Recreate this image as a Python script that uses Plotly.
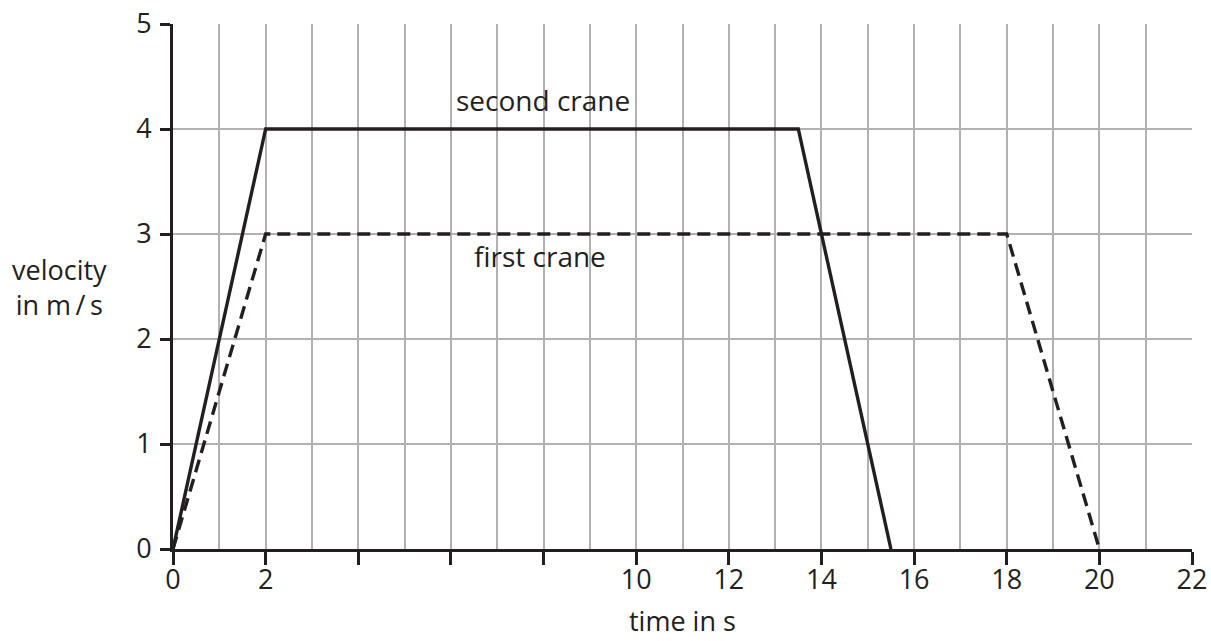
import plotly.graph_objects as go

# Data
first_t = [0, 2, 18, 20]
first_v = [0, 3, 3, 0]
second_t = [0, 2, 13.5, 15.5]
second_v = [0, 4, 4, 0]

x_tickvals = [0, 2, 4, 6, 8, 10, 12, 14, 16, 18, 20, 22]
x_ticktext = ["0", "2", "", "", "", "10", "12", "14", "16", "18", "20", "22"]
y_tickvals = [0, 1, 2, 3, 4, 5]

ink = "#231f20"
grid = "#b1b1b4"
font = "Open Sans"

fig = go.Figure()
fig.add_trace(go.Scatter(x=second_t, y=second_v, mode="lines",
                         line=dict(color=ink, width=3.4), showlegend=False))
fig.add_trace(go.Scatter(x=first_t, y=first_v, mode="lines",
                         line=dict(color=ink, width=3.4, dash="13px,7px"), showlegend=False))

fig.add_annotation(x=7.98, y=4.28, text="second crane", showarrow=False,
                   xanchor="center", yanchor="middle",
                   font=dict(family=font, size=28, color=ink))
fig.add_annotation(x=7.92, y=2.79, text="first crane", showarrow=False,
                   xanchor="center", yanchor="middle",
                   font=dict(family=font, size=28, color=ink))
fig.add_annotation(xref="paper", yref="paper", x=-0.111, y=0.50,
                   text="velocity<br>in m\u2009/\u2009s", showarrow=False, align="center",
                   xanchor="center", yanchor="middle",
                   font=dict(family=font, size=27, color=ink))
fig.add_annotation(xref="paper", yref="paper", x=0.5, y=-0.1745,
                   text="time in s", showarrow=False, xanchor="center", yanchor="bottom",
                   font=dict(family=font, size=27, color=ink))

fig.update_layout(
    width=1211, height=641,
    margin=dict(l=173, r=19, t=24, b=92),
    plot_bgcolor="white", paper_bgcolor="white",
    font=dict(family=font, size=27, color=ink),
    xaxis=dict(range=[0, 22], tickvals=x_tickvals, ticktext=x_ticktext,
               showgrid=True, gridcolor=grid, gridwidth=2,
               minor=dict(dtick=1, showgrid=True, gridcolor=grid, gridwidth=2, ticks=""),
               ticks="outside", ticklen=13, tickwidth=2.5, tickcolor=ink,
               showline=True, linecolor=ink, linewidth=2.7, zeroline=False,
               ticklabelstandoff=-8, automargin=False),
    yaxis=dict(range=[0, 5], tickvals=y_tickvals,
               showgrid=True, gridcolor=grid, gridwidth=2,
               ticks="outside", ticklen=10, tickwidth=2.5, tickcolor=ink,
               showline=True, linecolor=ink, linewidth=2.7, zeroline=False,
               ticklabelstandoff=3, automargin=False),
)

fig.write_html(
    "out.html",
    config={"displayModeBar": False},
    post_script="document.body.style.margin='0';document.body.style.overflow='hidden';",
)
